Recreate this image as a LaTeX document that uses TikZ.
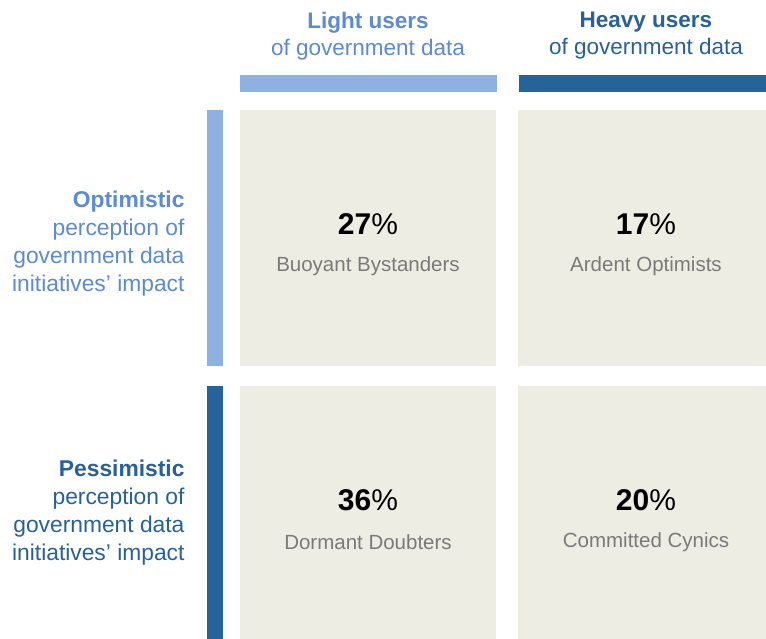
\documentclass[tikz,border=0pt]{standalone}
\usepackage{fontspec}
\setmainfont{Liberation Sans}
\usepackage{tikz}
\definecolor{lightbar}{HTML}{8EB1E1}
\definecolor{lighttext}{HTML}{5B8BD2}
\definecolor{darkbar}{HTML}{27639B}
\definecolor{darktext}{HTML}{28609A}
\definecolor{cellfill}{HTML}{EEEDE3}
\definecolor{celltext}{HTML}{7A7A7A}
\begin{document}
\begin{tikzpicture}[x=1pt, y=-1pt,
    cellbox/.style={fill=cellfill, draw=none},
    pct/.style={font=\fontsize{30}{33}\selectfont\bfseries, text=black},
    grp/.style={font=\fontsize{20.5}{23}\selectfont, text=celltext},
    head/.style={font=\fontsize{22.5}{27}\selectfont, align=center},
    side/.style={font=\fontsize{22.8}{28}\selectfont, align=right, anchor=east}]
        \useasboundingbox (0,0) rectangle (766,638);
        \clip (0,0) rectangle (766,638);

        % Column headers and bars
        \node[head, text=lighttext] (hlight) at (368,36) {\textbf{Light users}\\of government data};
        \node[head, text=darktext] (hheavy) at (646,36) {\textbf{Heavy users}\\of government data};
        \fill[lightbar] (240,75) rectangle (497,92);
        \fill[darkbar] (519,75) rectangle (775,92);

        % Row labels and bars
        \node[side, text=lighttext] (ropt) at (188,244) {\textbf{Optimistic}\\perception of\\government data\\initiatives’ impact};
        \node[side, text=darktext] (rpes) at (188,513) {\textbf{Pessimistic}\\perception of\\government data\\initiatives’ impact};
        \fill[lightbar] (207,110) rectangle (223,366);
        \fill[darkbar] (207,386) rectangle (223,645);

        % Cells
        \fill[cellbox] (240,110) rectangle (496,366);
        \fill[cellbox] (518,110) rectangle (774,366);
        \fill[cellbox] (240,386) rectangle (496,645);
        \fill[cellbox] (518,386) rectangle (774,645);

        % Shares
        \node[pct] (p1) at (368,224) {27\textmd{\%}};
        \node[grp] (g1) at (368,266) {Buoyant Bystanders};
        \node[pct] (p2) at (646,224) {17\textmd{\%}};
        \node[grp] (g2) at (646,266) {Ardent Optimists};
        \node[pct] (p3) at (368,500) {36\textmd{\%}};
        \node[grp] (g3) at (368,542) {Dormant Doubters};
        \node[pct] (p4) at (646,500) {20\textmd{\%}};
        \node[grp] (g4) at (646,542) {Committed Cynics};
    \end{tikzpicture}
\end{document}
